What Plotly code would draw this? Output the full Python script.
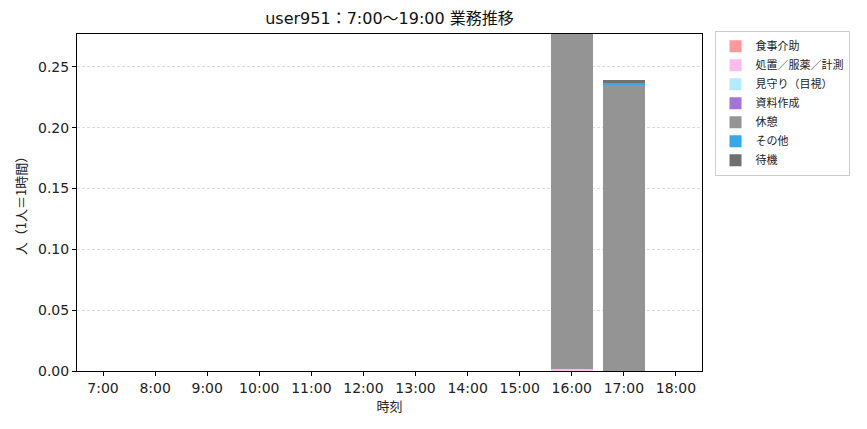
import plotly.graph_objects as go

# 時間帯
hours = ["7:00", "8:00", "9:00", "10:00", "11:00", "12:00",
         "13:00", "14:00", "15:00", "16:00", "17:00", "18:00"]

# 業務ごとの人数（1人=1時間）
shokuji = [0, 0, 0, 0, 0, 0, 0, 0, 0, 0, 0, 0]
shochi = [0, 0, 0, 0, 0, 0, 0, 0, 0, 0.002, 0, 0]
mimamori = [0, 0, 0, 0, 0, 0, 0, 0, 0, 0, 0, 0]
shiryo = [0, 0, 0, 0, 0, 0, 0, 0, 0, 0, 0, 0]
kyukei = [0, 0, 0, 0, 0, 0, 0, 0, 0, 0.276, 0.2355, 0]
sonota = [0, 0, 0, 0, 0, 0, 0, 0, 0, 0, 0.001, 0]
taiki = [0, 0, 0, 0, 0, 0, 0, 0, 0, 0, 0.0025, 0]

series = [
    ("食事介助", shokuji, "#ff9999"),
    ("処置／服薬／計測", shochi, "#ffbbee"),
    ("見守り（目視）", mimamori, "#b3ebfb"),
    ("資料作成", shiryo, "#a574d8"),
    ("休憩", kyukei, "#949494"),
    ("その他", sonota, "#33a8ec"),
    ("待機", taiki, "#707070"),
]

FONT = "DejaVu Sans, Noto Sans CJK JP"
JP = "Noto Sans CJK JP"

fig = go.Figure()
for name, vals, color in series:
    fig.add_trace(go.Bar(
        x=hours, y=vals, name=name,
        marker=dict(color=color, line=dict(width=0)),
    ))

# ページ余白(8px)を差し引いたサイズ
fig.update_layout(
    barmode="stack",
    bargap=0.2,
    width=859, height=421,
    margin=dict(l=69, r=165, t=26, b=58),
    paper_bgcolor="white",
    plot_bgcolor="white",
    font=dict(family=FONT, size=14, color="#222222"),
    title=dict(text="user951：7:00～19:00 業務推移",
               x=(69 + 625 / 2) / 859, xanchor="center",
               y=1 - 10.5 / 421, yanchor="middle",
               font=dict(size=16, color="#111111")),
    legend=dict(x=1.02, y=1.01, xanchor="left", yanchor="top",
                bordercolor="#cccccc", borderwidth=1,
                font=dict(size=11, family=JP), tracegroupgap=0,
                traceorder="normal", itemwidth=30),
    showlegend=True,
)

fig.update_xaxes(
    title=dict(text="時刻", font=dict(size=13, family=JP), standoff=4),
    range=[-0.5, 11.5],
    showline=True, linecolor="black", linewidth=1, mirror=True,
    ticks="outside", ticklen=4, tickcolor="black",
    showgrid=False,
)
fig.update_yaxes(
    title=dict(text="人（1人＝1時間）", font=dict(size=13, family=JP), standoff=8),
    range=[0, 0.277],
    tickvals=[0, 0.05, 0.10, 0.15, 0.20, 0.25],
    tickformat=".2f",
    showline=True, linecolor="black", linewidth=1, mirror=True,
    ticks="outside", ticklen=4, tickcolor="black",
    showgrid=True, gridcolor="#dddddd", griddash="3px,2px", gridwidth=0.8,
    zeroline=False,
)

fig.write_html("out.html")
